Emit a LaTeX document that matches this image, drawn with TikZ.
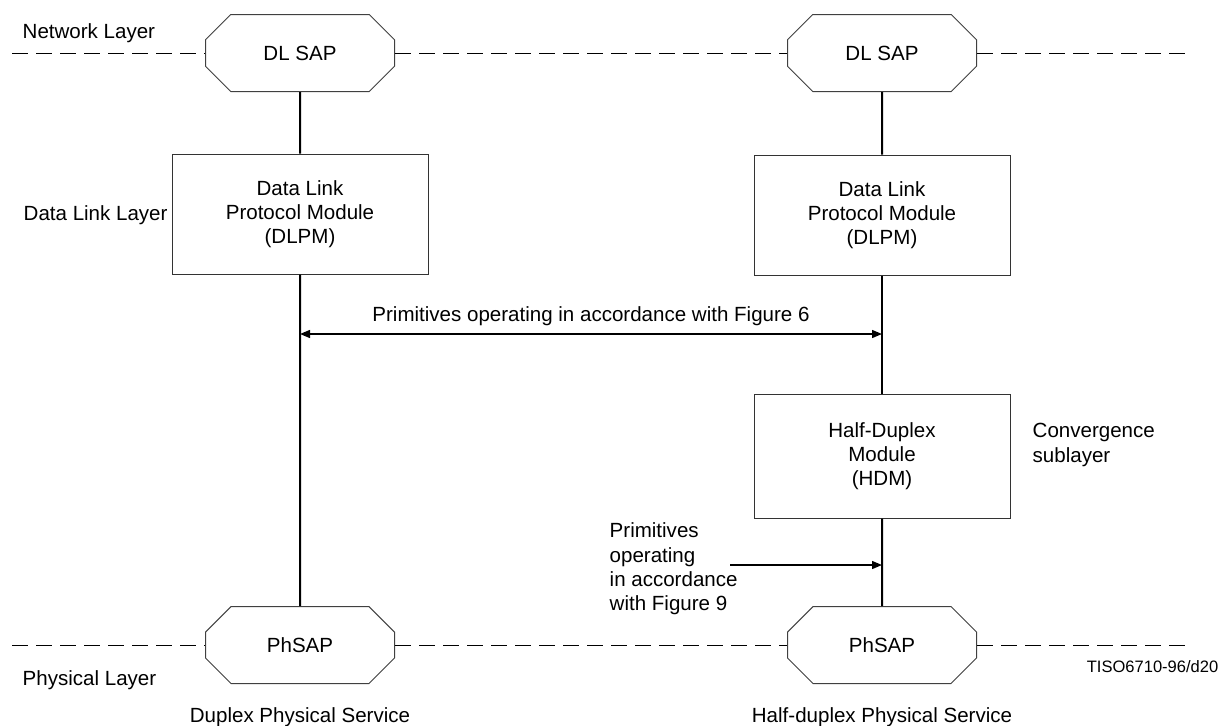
\documentclass[tikz,border=0pt]{standalone}
\usepackage{fontspec}
\setmainfont{Liberation Sans}
\usetikzlibrary{arrows.meta,shapes.misc}

\begin{document}
\begin{tikzpicture}[x=0.75pt,y=-0.75pt,
	font=\fontsize{15.4}{18.2}\selectfont,
	>={Triangle[length=7.5pt,width=6pt]},
	sap/.style={chamfered rectangle, chamfered rectangle xsep=13.5pt, chamfered rectangle ysep=13.5pt,
		draw=black!75, line width=.75pt, minimum width=141.75pt, minimum height=57.75pt, inner sep=0pt},
	module/.style={draw=black!80, line width=.75pt, minimum width=192pt, minimum height=90pt, align=center, inner sep=0pt},
	layer/.style={dash pattern=on 12pt off 6pt, line width=.75pt},
	link/.style={line width=1.5pt}]
	%\draw[help lines] (0,0) grid[step=50] (1227,725);
	\useasboundingbox (0,0) rectangle (1227,725);
	% service access points
	\node[sap] (dl1) at (300,53) {DL SAP};
	\node[sap] (dl2) at (882,53) {DL SAP};
	\node[sap] (ph1) at (300,645) {PhSAP};
	\node[sap] (ph2) at (882,645) {PhSAP};
	% modules
	\node[module] (dlpm1) at (300,214) {Data Link\\Protocol Module\\(DLPM)};
	\node[module] (dlpm2) at (882,215) {Data Link\\Protocol Module\\(DLPM)};
	\node[module, minimum height=93pt] (hdm) at (882,456) {Half-Duplex\\Module\\(HDM)};
	% layer boundaries
	\coordinate (nl) at (12,53);
	\coordinate (nr) at (1190,53);
	\coordinate (pl) at (12,645);
	\coordinate (pr) at (1190,645);
	\draw[layer] (nl) -- (dl1.west) (dl1.east) -- (dl2.west) (dl2.east) -- (nr);
	\draw[layer] (pl) -- (ph1.west) (ph1.east) -- (ph2.west) (ph2.east) -- (pr);
	% vertical links
	\draw[link] (dl1) -- (dlpm1);
	\draw[link] (dlpm1) -- (ph1);
	\draw[link] (dl2) -- (dlpm2);
	\draw[link] (dlpm2) -- (hdm);
	\draw[link] (hdm) -- (ph2);
	% primitives
	\coordinate (f6l) at (dlpm1.south |- 0,334);
	\coordinate (f6r) at (dlpm2.south |- 0,334);
	\draw[<->, line width=1pt] (f6l) -- node[above=2pt] {Primitives operating in accordance with Figure 6} (f6r);
	\node[align=left, anchor=west] (f9) at (605,569) {Primitives\\operating\\in accordance\\with Figure 9};
	\coordinate (f9s) at (730,565);
	\coordinate (f9e) at (hdm.south |- f9s);
	\draw[->, line width=1pt] (f9s) -- (f9e);
	% layer names
	\node[anchor=west] (net) at (18,33) {Network Layer};
	\node[anchor=west] (dll) at (19,215) {Data Link Layer};
	\node[anchor=west, align=left] (conv) at (1028,445) {Convergence\\sublayer};
	\node[anchor=west] (phy) at (18,680) {Physical Layer};
	\node[anchor=east, font=\fontsize{12.4}{14}\selectfont] (tag) at (1223,667) {TISO6710-96/d20};
	\node (dps) at (300,717) {Duplex Physical Service};
	\node (hps) at (882,717) {Half-duplex Physical Service};
\end{tikzpicture}
\end{document}
